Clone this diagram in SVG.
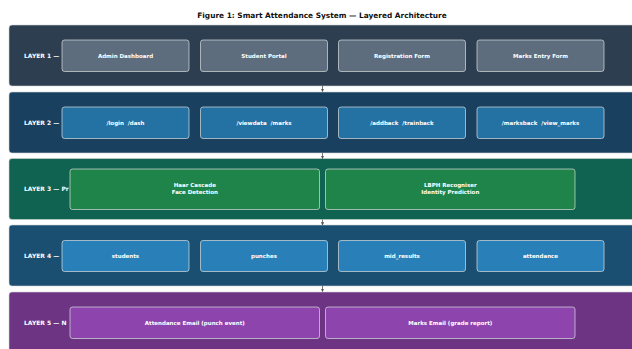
<svg xmlns="http://www.w3.org/2000/svg" width="632" height="349" viewBox="0 0 632 349">
<defs>
<style>
text{font-family:"DejaVu Sans","Liberation Sans",sans-serif;font-weight:bold;fill:#ffffff;white-space:pre}
.title{font-size:7.4px;fill:#111111}
.lbl{font-size:6px}
.nt{font-size:5.5px;text-anchor:middle}
.band{stroke:#d0d3d4;stroke-width:0.6}
.node{stroke:#d5dbdb;stroke-width:0.9;stroke-opacity:0.8}
.conn{stroke:#555555;stroke-width:0.8;fill:none}
</style>
<marker id="ah" viewBox="0 0 6 6" refX="5" refY="3" markerWidth="4" markerHeight="4" orient="auto">
<path d="M0,0 L6,3 L0,6 z" fill="#555555"/>
</marker>
</defs>
<rect width="632" height="349" fill="#ffffff"/>
<text class="title" x="322" y="18" text-anchor="middle">Figure 1: Smart Attendance System — Layered Architecture</text>

<g id="layer1">
<rect class="band" x="9" y="25" width="628" height="61" rx="3" fill="#2c3e50"/>
<text class="lbl" x="24" y="57.5">LAYER 1 —</text>
</g>
<g id="layer2">
<rect class="band" x="9" y="92" width="628" height="61" rx="3" fill="#1a4060"/>
<text class="lbl" x="24" y="124.5">LAYER 2 —</text>
</g>
<g id="layer3">
<rect class="band" x="9" y="158.5" width="628" height="61" rx="3" fill="#106350"/>
<text class="lbl" x="24" y="191">LAYER 3 — Pr</text>
</g>
<g id="layer4">
<rect class="band" x="9" y="225" width="628" height="61" rx="3" fill="#1b4f72"/>
<text class="lbl" x="24" y="257.5">LAYER 4 —</text>
</g>
<g id="layer5">
<rect class="band" x="9" y="292" width="628" height="61" rx="3" fill="#6c3483"/>
<text class="lbl" x="24" y="324.5">LAYER 5 — N</text>
</g>

<g id="connectors">
<line class="conn" x1="322.5" y1="86" x2="322.5" y2="91.5" marker-end="url(#ah)"/>
<line class="conn" x1="322.5" y1="153" x2="322.5" y2="158.5" marker-end="url(#ah)"/>
<line class="conn" x1="322.5" y1="219.5" x2="322.5" y2="225" marker-end="url(#ah)"/>
<line class="conn" x1="322.5" y1="286" x2="322.5" y2="291.5" marker-end="url(#ah)"/>
</g>

<g id="admin-dashboard"><rect class="node" x="62" y="40" width="127" height="31.5" rx="2.5" fill="#5d6d7e"/><text class="nt" x="125.5" y="57.8">Admin Dashboard</text></g>
<g id="student-portal"><rect class="node" x="200.5" y="40" width="127" height="31.5" rx="2.5" fill="#5d6d7e"/><text class="nt" x="264" y="57.8">Student Portal</text></g>
<g id="registration-form"><rect class="node" x="338.5" y="40" width="127" height="31.5" rx="2.5" fill="#5d6d7e"/><text class="nt" x="402" y="57.8">Registration Form</text></g>
<g id="marks-entry-form"><rect class="node" x="477" y="40" width="127" height="31.5" rx="2.5" fill="#5d6d7e"/><text class="nt" x="540.5" y="57.8">Marks Entry Form</text></g>

<g id="login-dash"><rect class="node" x="62" y="107" width="127" height="31.5" rx="2.5" fill="#2471a3"/><text class="nt" x="125.5" y="124.8" xml:space="preserve">/login  /dash</text></g>
<g id="viewdata-marks"><rect class="node" x="200.5" y="107" width="127" height="31.5" rx="2.5" fill="#2471a3"/><text class="nt" x="264" y="124.8" xml:space="preserve">/viewdata  /marks</text></g>
<g id="addback-trainback"><rect class="node" x="338.5" y="107" width="127" height="31.5" rx="2.5" fill="#2471a3"/><text class="nt" x="402" y="124.8" xml:space="preserve">/addback  /trainback</text></g>
<g id="marksback-view-marks"><rect class="node" x="477" y="107" width="127" height="31.5" rx="2.5" fill="#2471a3"/><text class="nt" x="540.5" y="124.8" xml:space="preserve">/marksback  /view_marks</text></g>

<g id="haar-cascade"><rect class="node" x="70" y="169" width="249.5" height="40.5" rx="2.5" fill="#1e8449"/><text class="nt" x="194.8" y="187.3">Haar Cascade</text><text class="nt" x="194.8" y="194.3">Face Detection</text></g>
<g id="lbph-recogniser"><rect class="node" x="325.5" y="169" width="249.5" height="40.5" rx="2.5" fill="#1e8449"/><text class="nt" x="450.3" y="187.3">LBPH Recogniser</text><text class="nt" x="450.3" y="194.3">Identity Prediction</text></g>

<g id="students"><rect class="node" x="62" y="240.5" width="127" height="31" rx="2.5" fill="#2980b9"/><text class="nt" x="125.5" y="258">students</text></g>
<g id="punches"><rect class="node" x="200.5" y="240.5" width="127" height="31" rx="2.5" fill="#2980b9"/><text class="nt" x="264" y="258">punches</text></g>
<g id="mid-results"><rect class="node" x="338.5" y="240.5" width="127" height="31" rx="2.5" fill="#2980b9"/><text class="nt" x="402" y="258">mid_results</text></g>
<g id="attendance"><rect class="node" x="477" y="240.5" width="127" height="31" rx="2.5" fill="#2980b9"/><text class="nt" x="540.5" y="258">attendance</text></g>

<g id="attendance-email"><rect class="node" x="70" y="307" width="249.5" height="31.5" rx="2.5" fill="#8e44ad"/><text class="nt" x="194.8" y="324.8">Attendance Email (punch event)</text></g>
<g id="marks-email"><rect class="node" x="325.5" y="307" width="249.5" height="31.5" rx="2.5" fill="#8e44ad"/><text class="nt" x="450.3" y="324.8">Marks Email (grade report)</text></g>
</svg>
